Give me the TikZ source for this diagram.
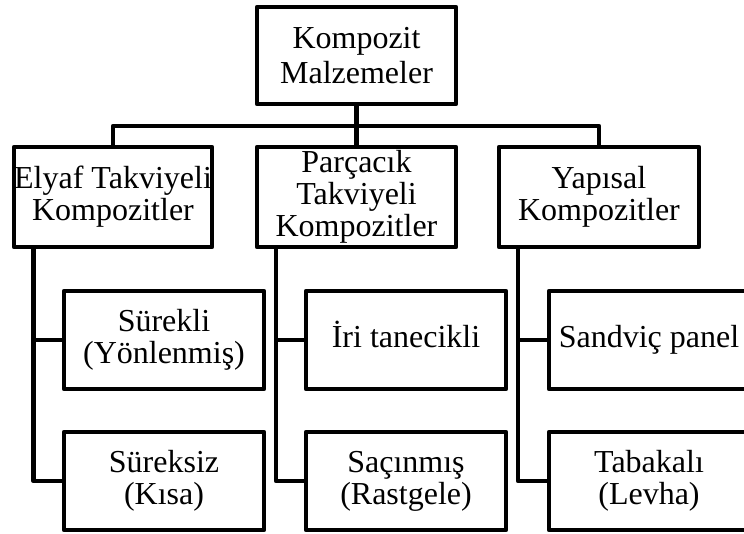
\documentclass[tikz,border=0pt]{standalone}
\usepackage{fontspec}
\setmainfont{Liberation Serif}
\begin{document}
\begin{tikzpicture}[x=1pt,y=-1pt,
  box/.style={draw=black,line width=4.5pt,line join=round,rectangle,inner sep=0pt,
    minimum width=#1,align=center,font=\fontsize{32}{32}\selectfont},
  box/.default=200pt,
  single/.style={text height=24pt,text depth=8pt},
  conn/.style={draw=black,line width=4.5pt,line join=round}]
\clip (0,0) rectangle (744,534);
\fill[white] (0,0) rectangle (744,534);
% level 1
\node[box=199pt,minimum height=97pt,font=\fontsize{32}{35}\selectfont] (top) at (356.5,55.5) {Kompozit\\Malzemeler};
% level 2
\node[box=198pt,minimum height=100pt] (elyaf) at (113,197) {Elyaf Takviyeli\\Kompozitler};
\node[box=199pt,minimum height=100pt] (parc) at (356.5,197) {Parçacık\\Takviyeli\\Kompozitler};
\node[box=200pt,minimum height=100pt] (yap) at (599,197) {Yapısal\\Kompozitler};
% level 3
\node[box,minimum height=98pt] (sur1) at (164,340) {Sürekli\\(Yönlenmiş)};
\node[box,minimum height=98pt] (sur2) at (164,481) {Süreksiz\\(Kısa)};
\node[box,single,minimum height=98pt] (iri) at (406,340) {İri tanecikli};
\node[box,minimum height=98pt] (sac) at (406,481) {Saçınmış\\(Rastgele)};
\node[box,single,minimum height=98pt] (sand) at (649,340) {Sandviç panel};
\node[box,minimum height=98pt] (tab) at (649,481) {Tabakalı\\(Levha)};
% connectors
\coordinate (bus) at (356.5,126);
\draw[conn] (top.south) -- (parc.north);
\draw[conn] (elyaf.north) |- (bus) -| (yap.north);
\coordinate (c1) at (33.5,247);
\coordinate (c2) at (276,247);
\coordinate (c3) at (518,247);
\draw[conn] (c1) |- (sur1.west);
\draw[conn] (c1) |- (sur2.west);
\draw[conn] (c2) |- (iri.west);
\draw[conn] (c2) |- (sac.west);
\draw[conn] (c3) |- (sand.west);
\draw[conn] (c3) |- (tab.west);
\end{tikzpicture}
\end{document}
